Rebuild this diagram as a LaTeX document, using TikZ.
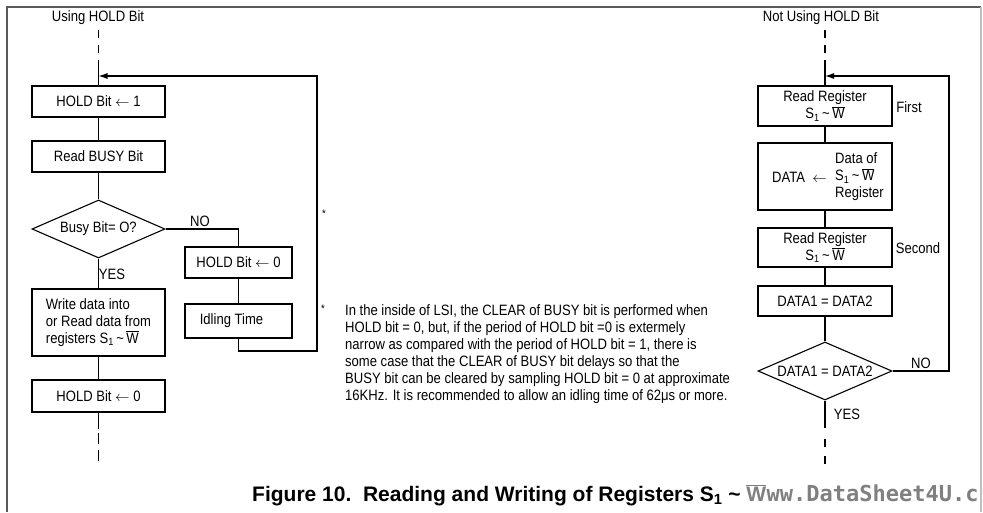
\documentclass[tikz,border=0pt]{standalone}
\usepackage{fontspec}
\setmainfont{Liberation Sans}[FakeStretch=0.87]
\newfontfamily\capfont{Liberation Sans}
\newfontfamily\wmfont{DejaVu Sans Mono}
\usetikzlibrary{shapes.geometric,arrows.meta}
% register range S1 ~ W-bar
\newcommand{\Sone}{S\textsubscript{1}}
\newcommand{\Wbar}{\ensuremath{\overline{\mbox{W}}}}
\newcommand{\regs}{\Sone\,\textasciitilde\,\Wbar}
\newcommand{\lar}{\ensuremath{\leftarrow}}

\begin{document}
\begin{tikzpicture}[x=1pt,y=-1pt,
  font=\fontsize{15}{17}\selectfont,
  flow/.style={line width=1.1pt},
  procbox/.style={draw,line width=1.1pt,minimum width=133pt,minimum height=31pt,inner sep=0pt,align=center},
  decide/.style={draw,diamond,line width=1.1pt,minimum width=133pt,minimum height=58pt,inner sep=0pt,shape aspect=2.3},
  lbl/.style={inner sep=0pt},
  star/.style={inner sep=0pt,font=\fontsize{11}{11}\selectfont},
  entry/.style={line width=1.1pt,dash pattern=on 8pt off 7pt},
  back/.style={line width=1.1pt,-{Latex[length=9pt,width=6pt]}}
]
\useasboundingbox (0,0) rectangle (983,512);

% frame
\draw[gray!70!black,line width=1.4pt] (7,512) -- (7,7) -- (981,7);
\draw[gray!50,line width=1.2pt] (981,7) -- (981,512);

% ---------- left chart: using the HOLD bit ----------
\node[lbl] (t1) at (98,18) {Using HOLD Bit};
\coordinate (s1) at (98.5,30);
\coordinate (s1b) at (98.5,65);
\coordinate (j1) at (98.5,76);
\node[procbox] (b1) at (98.5,101.5) {HOLD Bit \lar\ 1};
\node[procbox] (b2) at (98.5,156.5) {Read BUSY Bit};
\node[decide] (d1) at (98.5,229) {Busy Bit= O?};
\node[procbox,minimum height=67pt,align=left] (b5) at (98.5,322.5)
  {Write data into\\or Read data from\\registers \regs};
\node[procbox,minimum height=32pt] (b6) at (98.5,396) {HOLD Bit \lar\ 0};
\node[procbox,minimum width=107pt] (b3) at (238.5,262.5) {HOLD Bit \lar\ 0};
\node[procbox,minimum width=107pt,minimum height=34pt] (b4) at (238.5,321) {Idling Time\hspace{14pt}};
\node[lbl] (yes1) at (112,274) {YES};
\node[lbl] (no1) at (200,221) {NO};
\node[star] (ast1) at (324,214) {*};
\coordinate (e1) at (98.5,429);
\coordinate (e1a) at (98.5,433);
\coordinate (e1b) at (98.5,466);
\coordinate (c1) at (317,351);

\draw[entry] (s1) -- (s1b);
\draw[flow] (s1b) -- (b1);
\draw[flow] (b1) -- (b2);
\draw[flow] (b2) -- (d1);
\draw[flow] (d1) -- (b5);
\draw[flow] (b5) -- (b6);
\draw[flow] (b6) -- (e1);
\draw[entry,dash pattern=on 11pt off 6pt] (e1a) -- (e1b);
\draw[flow] (d1.east) -| (b3.north);
\draw[flow] (b3) -- (b4);
\draw[back] (b4.south) -- (b4.south |- c1) -- (c1) -- (c1 |- j1) -- (j1);

% footnote
\node[star] (ast2) at (323,309) {*};
\node[lbl,anchor=north west,align=left] (note) at (345,304)
  {In the inside of LSI, the CLEAR of BUSY bit is performed when\\
   HOLD bit = 0, but, if the period of HOLD bit =0 is extermely\\
   narrow as compared with the period of HOLD bit = 1, there is\\
   some case that the CLEAR of BUSY bit delays so that the\\
   BUSY bit can be cleared by sampling HOLD bit = 0 at approximate\\
   16KHz. It is recommended to allow an idling time of 62μs or more.};

% ---------- right chart: not using the HOLD bit ----------
\node[lbl] (t2) at (821,18) {Not Using HOLD Bit};
\coordinate (s2) at (825,30);
\coordinate (s2b) at (825,65);
\coordinate (j2) at (825,76);
\node[procbox,minimum width=134pt,minimum height=40pt] (r1) at (825,106) {Read Register\\\regs};
\node[procbox,minimum width=134pt,minimum height=67pt] (r2) at (825,176.5) {};
\node[lbl,anchor=west] (r2a) at (772,177) {DATA\ \ \lar};
\node[lbl,anchor=west,align=left] (r2b) at (835,177) {Data of\\\regs\\Register};
\node[procbox,minimum width=134pt,minimum height=39pt] (r3) at (825,247.5) {Read Register\\\regs};
\node[procbox,minimum width=134pt,minimum height=30pt] (r4) at (825,301) {DATA1 = DATA2};
\node[decide,minimum width=134pt] (rd) at (825,371) {DATA1 = DATA2};
\node[lbl] (first) at (909,107) {First};
\node[lbl] (second) at (918,248) {Second};
\node[lbl] (no2) at (921,363) {NO};
\node[lbl] (yes2) at (847,414) {YES};
\coordinate (e2) at (825,428);
\coordinate (e2a) at (825,439);
\coordinate (e2b) at (825,466);
\coordinate (c2) at (949,371);

\draw[entry] (s2) -- (s2b);
\draw[flow] (s2b) -- (r1);
\draw[flow] (r1) -- (r2);
\draw[flow] (r2) -- (r3);
\draw[flow] (r3) -- (r4);
\draw[flow] (r4) -- (rd);
\draw[flow] (rd) -- (e2);
\draw[entry,dash pattern=on 8pt off 9pt] (e2a) -- (e2b);
\draw[back] (rd.east) -- (c2) -- (c2 |- j2) -- (j2);

% caption and watermark
\node[lbl,anchor=base west,font=\capfont\bfseries\fontsize{21}{21}\selectfont] (cap) at (252,501)
  {Figure 10.\ \ Reading and Writing of Registers \Sone\ \textasciitilde\ {\color{gray}\Wbar}};
\node[lbl,anchor=base west,text=gray,font=\wmfont\bfseries\fontsize{22}{22}\selectfont] (wm) at (cap.base east) {ww.DataSheet4U.c};
\end{tikzpicture}
\end{document}
